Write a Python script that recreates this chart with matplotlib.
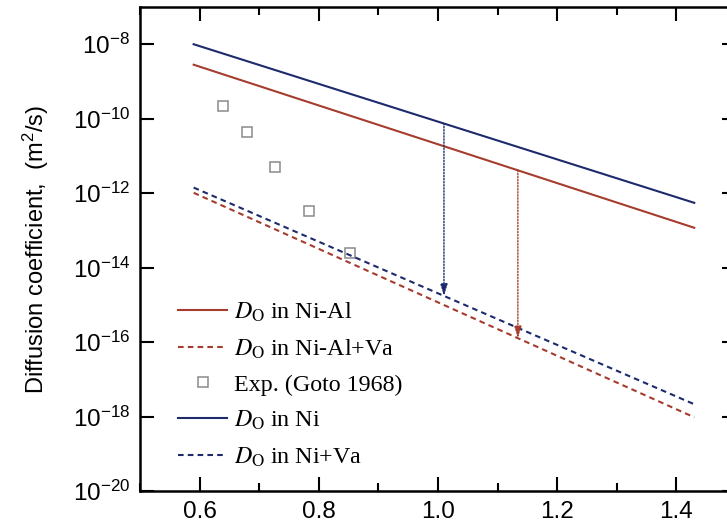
import numpy as np
import matplotlib
matplotlib.use("Agg")
import matplotlib.pyplot as plt
from matplotlib.ticker import FixedLocator, MultipleLocator, NullLocator

plt.rcParams['font.family'] = 'Liberation Sans'
plt.rcParams['mathtext.fontset'] = 'custom'
plt.rcParams['mathtext.rm'] = 'Liberation Sans'
plt.rcParams['mathtext.default'] = 'regular'
plt.rcParams['axes.unicode_minus'] = False

# model lines: x range and log10(D) at both ends (straight Arrhenius lines)
x_line = [0.59, 1.43]
logD_NiAl = [-8.55, -12.93]
logD_NiAl_Va = [-11.99, -18.02]
logD_Ni = [-8.00, -12.26]
logD_Ni_Va = [-11.85, -17.67]

# experiment (Goto 1968)
x_exp = [0.639, 0.680, 0.727, 0.784, 0.852]
logD_exp = [-9.65, -10.35, -11.29, -12.47, -13.60]

# arrows from solid to dashed line
x_arrow_Ni = 1.010
x_arrow_NiAl = 1.134

yticks = [1e-20, 1e-18, 1e-16, 1e-14, 1e-12, 1e-10, 1e-8]

blue = '#1d2b6d'
red = '#a63c2e'


def at(x, logs):
    return 10 ** np.interp(x, x_line, logs)


fig = plt.figure(figsize=(7.27, 5.26), dpi=100)
ax = fig.add_axes([140/727, 35/526, 596/727, 484/526])

xs = np.array(x_line)
l1, = ax.plot(xs, 10**np.array(logD_NiAl), color=red, lw=1.5)
l2, = ax.plot(xs, 10**np.array(logD_NiAl_Va), color=red, lw=1.5, ls=(0, (2.7, 2)))
l3, = ax.plot(x_exp, 10**np.array(logD_exp), ls='none', marker='s', ms=7,
              mfc='none', mec='#8a8a8a', mew=1.1)
l4, = ax.plot(xs, 10**np.array(logD_Ni), color=blue, lw=1.5)
l5, = ax.plot(xs, 10**np.array(logD_Ni_Va), color=blue, lw=1.5, ls=(0, (2.7, 2)))

for xa, top, bot, c in [(x_arrow_Ni, logD_Ni, logD_Ni_Va, blue),
                        (x_arrow_NiAl, logD_NiAl, logD_NiAl_Va, red)]:
    ax.annotate('', xy=(xa, at(xa, bot)), xytext=(xa, at(xa, top)),
                arrowprops=dict(arrowstyle='-|>,head_length=0.7,head_width=0.22',
                                color=c, lw=1.0, ls=(0, (1, 1.2)),
                                shrinkA=0, shrinkB=0))

ax.set_yscale('log')
ax.set_xlim(0.5, 1.5)
ax.set_ylim(1e-20, 1e-7)
ax.yaxis.set_major_locator(FixedLocator(yticks))
ax.yaxis.set_minor_locator(NullLocator())
ax.xaxis.set_major_locator(MultipleLocator(0.2))
ax.xaxis.set_minor_locator(MultipleLocator(0.1))
ax.set_xticks([0.6, 0.8, 1.0, 1.2, 1.4])
ax.set_xticklabels(['0.6', '0.8', '1.0', '1.2', '1.4'])

ax.tick_params(which='both', direction='in', top=True, right=True,
               labelsize=17.5, width=1.5)
ax.tick_params(which='major', length=10, pad=7)
ax.tick_params(which='minor', length=6)
for s in ax.spines.values():
    s.set_linewidth(1.8)

ax.set_ylabel('Diffusion coefficient,  (m$^2$/s)', fontsize=17, labelpad=16)

labels = [r'$\mathit{D}_\mathrm{O}$ in Ni-Al', r'$\mathit{D}_\mathrm{O}$ in Ni-Al+Va',
          'Exp. (Goto 1968)', r'$\mathit{D}_\mathrm{O}$ in Ni', r'$\mathit{D}_\mathrm{O}$ in Ni+Va']
leg = ax.legend([l1, l2, l3, l4, l5], labels, loc='upper left',
                bbox_to_anchor=(0.064, 0.393), frameon=False,
                prop={'family': 'Liberation Serif', 'size': 17.3},
                handlelength=2.05, handletextpad=0.28, labelspacing=0.55,
                borderpad=0, borderaxespad=0)
for t in leg.get_texts():
    t.set_math_fontfamily('stix')

fig.savefig('out.png', dpi=100)
